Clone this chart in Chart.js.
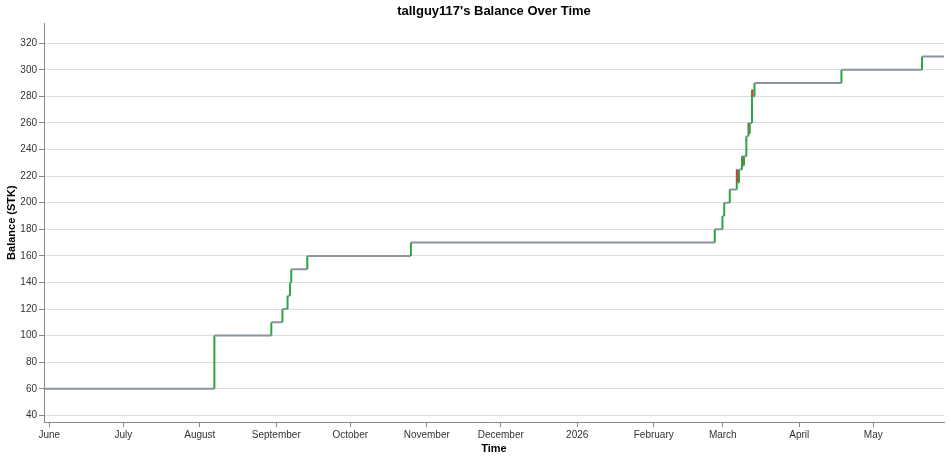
<!DOCTYPE html>
<html>
<head>
<meta charset="utf-8">
<script src="https://cdn.jsdelivr.net/npm/chart.js@4"></script>
<style>
  html, body { margin: 0; padding: 0; background: #fff; }
  #wrap { width: 951px; height: 459px; position: relative; }
</style>
</head>
<body>
<div id="wrap"><canvas id="balance"></canvas></div>
<script>
// balance changes (time of change -> new balance)
const changeTimes = [
    '2025-05-29T20:30', '2025-08-06T22:00', '2025-08-30T00:00', '2025-09-03T12:00',
    '2025-09-05T14:00', '2025-09-06T14:00', '2025-09-07T02:00', '2025-09-13T14:00',
    '2025-10-25T14:00', '2026-02-25T18:00', '2026-02-28T21:00', '2026-03-01T14:00',
    '2026-03-03T20:00', '2026-03-06T16:00', '2026-03-06T21:00', '2026-03-07T14:00',
    '2026-03-08T19:00', '2026-03-09T09:00', '2026-03-09T15:00', '2026-03-10T13:00',
    '2026-03-11T10:00', '2026-03-11T16:00', '2026-03-11T22:00', '2026-03-12T20:00',
    '2026-03-13T01:00', '2026-03-13T20:00', '2026-04-18T02:00', '2026-05-20T18:00'
];
const balances = [
    60, 100, 110, 120,
    130, 140, 150, 160,
    170, 180, 190, 200,
    210, 225, 215, 225,
    235, 228, 235, 250,
    260, 252, 260, 285,
    280, 290, 300, 310
];
const endTime = '2026-05-29T16:00';

const monthStarts = [
    '2025-06-01', '2025-07-01', '2025-08-01', '2025-09-01', '2025-10-01', '2025-11-01',
    '2025-12-01', '2026-01-01', '2026-02-01', '2026-03-01', '2026-04-01', '2026-05-01'
];
const monthLabels = [
    'June', 'July', 'August', 'September', 'October', 'November',
    'December', '2026', 'February', 'March', 'April', 'May'
];
const yTicks = [40, 60, 80, 100, 120, 140, 160, 180, 200, 220, 240, 260, 280, 300, 320];

const toMs = s => new Date(s.length > 10 ? s + 'Z' : s + 'T00:00Z').getTime();

const GRAY = '#8c949d';
const GREEN = '#28a745';
const RED = '#dc3545';
const AXIS = '#888';
const FONT = "'Liberation Sans', Arial, sans-serif";

// step line: each change is a vertical jump at the same time
const points = [{ x: toMs(changeTimes[0]), y: balances[0] }];
for (let i = 1; i < changeTimes.length; i++) {
    const t = toMs(changeTimes[i]);
    points.push({ x: t, y: balances[i - 1] });
    points.push({ x: t, y: balances[i] });
}
points.push({ x: toMs(endTime), y: balances[balances.length - 1] });

const ctx = document.getElementById('balance');

new Chart(ctx, {
    type: 'line',
    data: {
        datasets: [{
            label: 'Balance',
            data: points,
            borderWidth: 2,
            pointRadius: 0,
            pointHoverRadius: 0,
            tension: 0,
            fill: false,
            borderColor: GRAY,
            segment: {
                borderColor: c => {
                    if (c.p0.parsed.x !== c.p1.parsed.x) return GRAY;
                    return c.p1.parsed.y > c.p0.parsed.y ? GREEN : RED;
                }
            }
        }]
    },
    options: {
        responsive: true,
        maintainAspectRatio: false,
        animation: false,
        layout: { padding: { left: 0, right: 7, top: 0, bottom: 0 } },
        plugins: {
            legend: { display: false },
            tooltip: { enabled: false },
            title: {
                display: true,
                text: "tallguy117's Balance Over Time",
                color: '#000',
                fullSize: false,
                font: { family: FONT, size: 13, weight: 'bold' },
                padding: { top: 4, bottom: 3.7 }
            }
        },
        scales: {
            x: {
                type: 'linear',
                min: toMs(changeTimes[0]),
                max: toMs(endTime),
                afterBuildTicks: s => { s.ticks = monthStarts.map(m => ({ value: toMs(m) })); },
                afterFit: s => { s.height = 37; },
                border: { color: AXIS, width: 1 },
                grid: { drawOnChartArea: false, drawTicks: true, tickLength: 5, tickColor: AXIS },
                ticks: {
                    autoSkip: false,
                    maxRotation: 0,
                    padding: 2,
                    color: '#333',
                    font: { family: FONT, size: 10 },
                    callback: (v, i) => monthLabels[i]
                },
                title: {
                    display: true,
                    text: 'Time',
                    color: '#000',
                    font: { family: FONT, size: 11, weight: 'bold' },
                    padding: { top: 0, bottom: 3 }
                }
            },
            y: {
                min: 35,
                max: 335,
                afterBuildTicks: s => { s.ticks = yTicks.map(v => ({ value: v })); },
                afterFit: s => { s.width = 44; },
                border: { color: AXIS, width: 1 },
                grid: { color: '#ddd', lineWidth: 1, drawTicks: true, tickLength: 5, tickColor: AXIS },
                ticks: {
                    padding: 2,
                    color: '#333',
                    font: { family: FONT, size: 10 }
                },
                title: {
                    display: true,
                    text: 'Balance (STK)',
                    color: '#000',
                    font: { family: FONT, size: 11, weight: 'bold' },
                    padding: { top: 5, bottom: 0 }
                }
            }
        }
    }
});
</script>
</body>
</html>
